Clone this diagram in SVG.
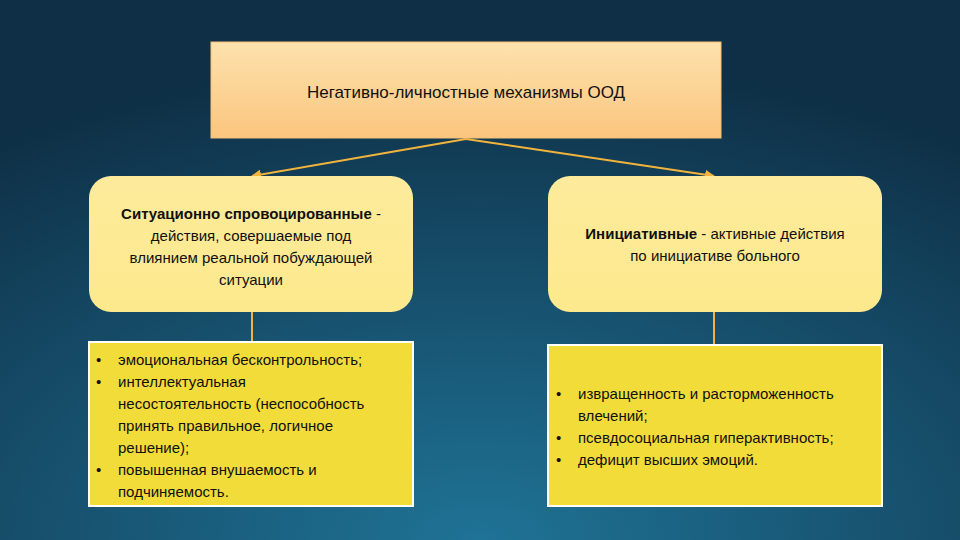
<svg xmlns="http://www.w3.org/2000/svg" width="960" height="540" viewBox="0 0 960 540">
<defs>
<radialGradient id="bg" cx="0.5" cy="1" r="0.9">
<stop offset="0" stop-color="#1f7396"/>
<stop offset="0.6" stop-color="#154a66"/>
<stop offset="1" stop-color="#0e2f45"/>
</radialGradient>
<linearGradient id="top" x1="0" y1="0" x2="0" y2="1">
<stop offset="0" stop-color="#fde2ad"/>
<stop offset="1" stop-color="#fbc57e"/>
</linearGradient>
<linearGradient id="mid" x1="0" y1="0" x2="0" y2="1">
<stop offset="0" stop-color="#fdeb9c"/>
<stop offset="1" stop-color="#fde98c"/>
</linearGradient>
<marker id="ar" viewBox="0 0 10 10" refX="9" refY="5" markerWidth="5" markerHeight="5" orient="auto">
<path d="M0,0 L10,5 L0,10 z" fill="#f2b43c"/>
</marker>
<style>
text{font-family:"Liberation Sans",Arial,sans-serif;font-size:15px;fill:#111}
.b{font-weight:bold}
.c{text-anchor:middle}
.box{fill:#f2dc3a;stroke:#fff;stroke-width:2}
.ln{stroke:#f2b43c;stroke-width:2;fill:none}
</style>
</defs>
<rect width="960" height="540" fill="url(#bg)"/>
<g id="connectors">
<path class="ln" d="M466,139 L252,176" marker-end="url(#ar)"/>
<path class="ln" d="M466,139 L714,176" marker-end="url(#ar)"/>
<path class="ln" d="M252,312 L252,342"/>
<path class="ln" d="M714,312 L714,345"/>
</g>
<g id="root">
<rect x="211" y="42" width="510" height="96" fill="url(#top)" stroke="#f4c07a"/>
<text x="466" y="98" class="c" style="font-size:17px">Негативно-личностные механизмы ООД</text>
</g>
<g id="situational">
<rect x="89" y="176" width="324" height="136" rx="22" fill="url(#mid)"/>
<text x="251" y="219" class="c"><tspan class="b">Ситуационно спровоцированные</tspan> -</text>
<text x="251" y="241" class="c">действия, совершаемые под</text>
<text x="251" y="263" class="c">влиянием реальной побуждающей</text>
<text x="251" y="285" class="c">ситуации</text>
</g>
<g id="initiative">
<rect x="548" y="176" width="334" height="136" rx="22" fill="url(#mid)"/>
<text x="715" y="239" class="c"><tspan class="b">Инициативные</tspan> - активные действия</text>
<text x="715" y="261" class="c">по инициативе больного</text>
</g>
<g id="list-left">
<rect class="box" x="89" y="342" width="324" height="164"/>
<text x="96" y="365">•</text><text x="118" y="365">эмоциональная бесконтрольность;</text>
<text x="96" y="387">•</text><text x="118" y="387">интеллектуальная</text>
<text x="118" y="409">несостоятельность (неспособность</text>
<text x="118" y="431">принять правильное, логичное</text>
<text x="118" y="453">решение);</text>
<text x="96" y="475">•</text><text x="118" y="475">повышенная внушаемость и</text>
<text x="118" y="497">подчиняемость.</text>
</g>
<g id="list-right">
<rect class="box" x="548" y="345" width="334" height="161"/>
<text x="556" y="399">•</text><text x="578" y="399">извращенность и расторможенность</text>
<text x="578" y="421">влечений;</text>
<text x="556" y="443">•</text><text x="578" y="443">псевдосоциальная гиперактивность;</text>
<text x="556" y="465">•</text><text x="578" y="465">дефицит высших эмоций.</text>
</g>
</svg>
